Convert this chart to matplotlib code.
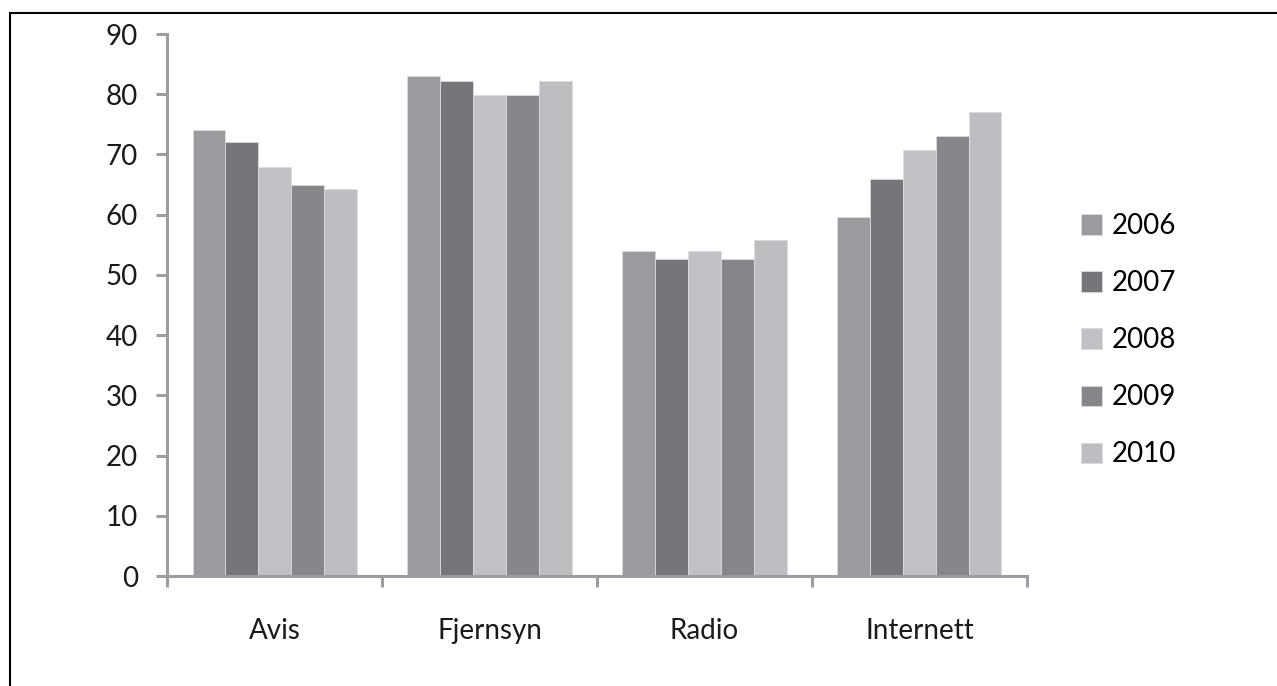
import numpy as np
import matplotlib
matplotlib.use('Agg')
import matplotlib.pyplot as plt
from matplotlib.patches import Rectangle

# Data
categories = ['Avis', 'Fjernsyn', 'Radio', 'Internett']
years = ['2006', '2007', '2008', '2009', '2010']
v2006 = [74, 83, 54, 59.7]
v2007 = [72, 82.2, 52.7, 66]
v2008 = [68, 79.8, 54, 70.7]
v2009 = [65, 79.8, 52.7, 73]
v2010 = [64.2, 82.2, 55.8, 77]
series = [v2006, v2007, v2008, v2009, v2010]
colors = ['#9a9b9f', '#75767a', '#c0c1c5', '#86878b', '#bdbec2']

plt.rcParams['font.family'] = ['Lato', 'DejaVu Sans']
fs = 20

fig = plt.figure(figsize=(12.77, 6.86), dpi=100)
ax = fig.add_axes([0.1308, 0.1603, 0.8042 - 0.1308, 0.9504 - 0.1603])

x = np.arange(len(categories)) + 0.5
w = 0.1526
for i, (vals, c) in enumerate(zip(series, colors)):
    ax.bar(x + (i - 2) * w, vals, width=w, color=c, edgecolor='#dcdcde',
           linewidth=0.6, label=years[i])

ax.set_xlim(0, 4)
ax.set_ylim(0, 90)
ax.set_yticks(range(0, 91, 10))
ax.set_xticks(x)
ax.set_xticklabels(categories)
ax.set_xticks(range(0, 5), minor=True)

axis_col = '#9c9da1'
for s in ['top', 'right']:
    ax.spines[s].set_visible(False)
for s in ['left', 'bottom']:
    ax.spines[s].set_color(axis_col)
    ax.spines[s].set_linewidth(2.2)

ax.tick_params(axis='y', direction='out', length=8, width=2.2, color=axis_col,
               labelsize=fs, labelcolor='#1a1a1a', pad=13)
ax.tick_params(axis='x', which='major', length=0, labelsize=fs,
               labelcolor='#1a1a1a', pad=30)
ax.tick_params(axis='x', which='minor', direction='out', length=8, width=2.2,
               color=axis_col)

ax.legend(loc='center left', bbox_to_anchor=(1.05, 0.435),
          frameon=False, fontsize=fs, handlelength=0.75, handleheight=0.75,
          handletextpad=0.35, labelspacing=1.12, borderaxespad=0)

# outer chart border (cropped on right and bottom)
fig.patches.append(Rectangle((10 / 1277, -0.1), 1.2, 1 - 13 / 686 + 0.1,
                             transform=fig.transFigure, fill=False,
                             edgecolor='black', linewidth=1.5))

fig.savefig('out.png', dpi=100)
